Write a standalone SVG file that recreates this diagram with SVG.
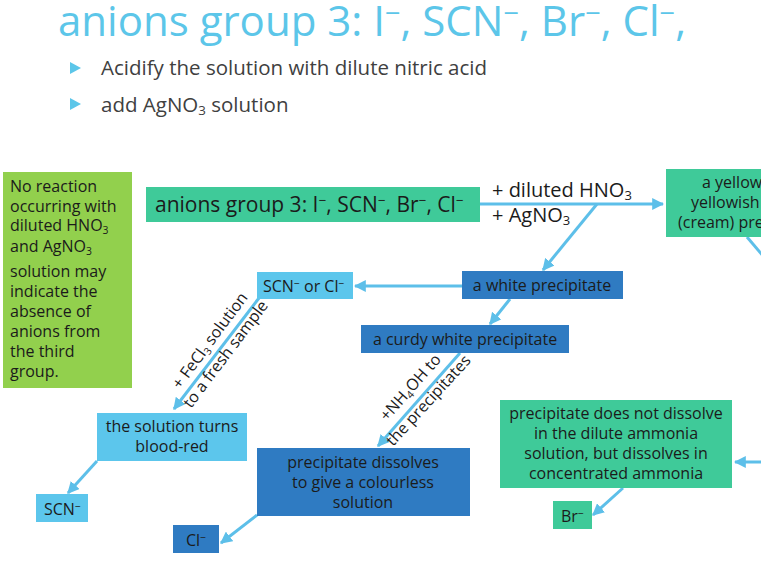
<svg xmlns="http://www.w3.org/2000/svg" width="761" height="570" viewBox="0 0 761 570">
<defs>
<marker id="ah" viewBox="0 0 10 10" refX="9" refY="5" markerWidth="4" markerHeight="4" orient="auto" markerUnits="strokeWidth">
<path d="M0,0 L10,5 L0,10 Z" fill="#5DBFE9"/>
</marker>
<style>
text{font-family:"Open Sans",Lato,sans-serif;fill:#1b1b1b}
.t{fill:#5CC6E9;font-size:42px}
.b{fill:#404040;font-size:20.5px}
.n{font-size:16px}
.c{text-anchor:middle}
.sp{font-size:65%}
.lime{fill:#92D04D}
.teal{fill:#3FCA99}
.lb{fill:#5CC6EC}
.db{fill:#2F7BC2}
.ar{stroke:#5DBFE9;stroke-width:3;fill:none;marker-end:url(#ah)}
</style>
</defs>
<rect width="761" height="570" fill="#fff"/>
<text class="t" x="58" y="36">anions group 3: I<tspan class="sp" baseline-shift="50%">−</tspan>, SCN<tspan class="sp" baseline-shift="50%">−</tspan>, Br<tspan class="sp" baseline-shift="50%">−</tspan>, Cl<tspan class="sp" baseline-shift="50%">−</tspan>,</text>
<path d="M70,62 L81,68 L70,74 Z" fill="#5CC6E9"/>
<text class="b" x="101" y="75">Acidify the solution with dilute nitric acid</text>
<path d="M70,98 L81,104 L70,110 Z" fill="#5CC6E9"/>
<text class="b" x="101" y="112">add AgNO<tspan class="sp" baseline-shift="-25%">3</tspan> solution</text>

<g id="connectors">
<line class="ar" x1="480" y1="204" x2="663" y2="204"/>
<line class="ar" x1="597" y1="204" x2="543" y2="270"/>
<line class="ar" x1="462" y1="286" x2="355" y2="286"/>
<line class="ar" x1="510" y1="299" x2="490" y2="324"/>
<line class="ar" x1="259" y1="298" x2="174" y2="409"/>
<line class="ar" x1="97" y1="461" x2="68" y2="493"/>
<line class="ar" x1="460" y1="353" x2="378" y2="446"/>
<line class="ar" x1="257" y1="515" x2="221" y2="543"/>
<line class="ar" x1="747" y1="237" x2="775" y2="270"/>
<line class="ar" x1="775" y1="462" x2="735" y2="462"/>
<line class="ar" x1="623" y1="488" x2="593" y2="515"/>
<text x="492" y="197" font-size="20">+ diluted HNO<tspan class="sp" baseline-shift="-25%">3</tspan></text>
<text x="492" y="222" font-size="20">+ AgNO<tspan class="sp" baseline-shift="-25%">3</tspan></text>
<text class="n" transform="translate(180,390) rotate(-53.5)">+ FeCl<tspan class="sp" baseline-shift="-25%">3</tspan> solution</text>
<text class="n" transform="translate(191,409) rotate(-53)">to a fresh sample</text>
<text class="n" transform="translate(387,422) rotate(-48.5)">+NH<tspan class="sp" baseline-shift="-25%">4</tspan>OH to</text>
<text class="n" transform="translate(393,447) rotate(-47.5)">the precipitates</text>
</g>

<g id="note">
<rect class="lime" x="3" y="172" width="129" height="216"/>
<text class="n" x="10" y="192">No reaction</text>
<text class="n" x="10" y="212">occurring with</text>
<text class="n" x="10" y="231">diluted HNO<tspan class="sp" baseline-shift="-25%">3</tspan></text>
<text class="n" x="10" y="252">and AgNO<tspan class="sp" baseline-shift="-25%">3</tspan></text>
<text class="n" x="10" y="277">solution may</text>
<text class="n" x="10" y="297">indicate the</text>
<text class="n" x="10" y="317">absence of</text>
<text class="n" x="10" y="337">anions from</text>
<text class="n" x="10" y="357">the third</text>
<text class="n" x="10" y="377">group.</text>
</g>

<g id="start">
<rect class="teal" x="146" y="187" width="334" height="35"/>
<text x="155" y="212" font-size="21">anions group 3: I<tspan class="sp" baseline-shift="50%">−</tspan>, SCN<tspan class="sp" baseline-shift="50%">−</tspan>, Br<tspan class="sp" baseline-shift="50%">−</tspan>, Cl<tspan class="sp" baseline-shift="50%">−</tspan></text>
</g>

<g id="yellow">
<rect class="teal" x="666" y="169" width="110" height="68"/>
<text class="n" x="702" y="188">a yellow</text>
<text class="n" x="691" y="208">yellowish</text>
<text class="n" x="678" y="228">(cream) pre</text>
</g>

<g id="white">
<rect class="db" x="462" y="271" width="161" height="28"/>
<text class="n c" x="542" y="291">a white precipitate</text>
</g>

<g id="scnorcl">
<rect class="lb" x="257" y="272" width="96" height="27"/>
<text class="n" x="263" y="292">SCN<tspan class="sp" baseline-shift="50%">−</tspan> or Cl<tspan class="sp" baseline-shift="50%">−</tspan></text>
</g>

<g id="curdy">
<rect class="db" x="361" y="325" width="208" height="28"/>
<text class="n c" x="465" y="345">a curdy white precipitate</text>
</g>

<g id="bloodred">
<rect class="lb" x="97" y="413" width="150" height="48"/>
<text class="n c" x="172" y="432">the solution turns</text>
<text class="n c" x="172" y="452">blood-red</text>
</g>

<g id="scn">
<rect class="lb" x="36" y="494" width="52" height="28"/>
<text class="n" x="44" y="515">SCN<tspan class="sp" baseline-shift="50%">−</tspan></text>
</g>

<g id="dissolves">
<rect class="db" x="257" y="448" width="213" height="68"/>
<text class="n c" x="363" y="468">precipitate dissolves</text>
<text class="n c" x="363" y="488">to give a colourless</text>
<text class="n c" x="363" y="508">solution</text>
</g>

<g id="cl">
<rect class="db" x="173" y="525" width="46" height="28"/>
<text class="n" x="186" y="546">Cl<tspan class="sp" baseline-shift="50%">−</tspan></text>
</g>

<g id="notdissolve">
<rect class="teal" x="500" y="400" width="232" height="88"/>
<text class="n c" x="616" y="419">precipitate does not dissolve</text>
<text class="n c" x="616" y="439">in the dilute ammonia</text>
<text class="n c" x="616" y="459">solution, but dissolves in</text>
<text class="n c" x="616" y="479">concentrated ammonia</text>
</g>

<g id="br">
<rect class="teal" x="553" y="501" width="39" height="28"/>
<text class="n" x="561" y="522">Br<tspan class="sp" baseline-shift="50%">−</tspan></text>
</g>
</svg>
